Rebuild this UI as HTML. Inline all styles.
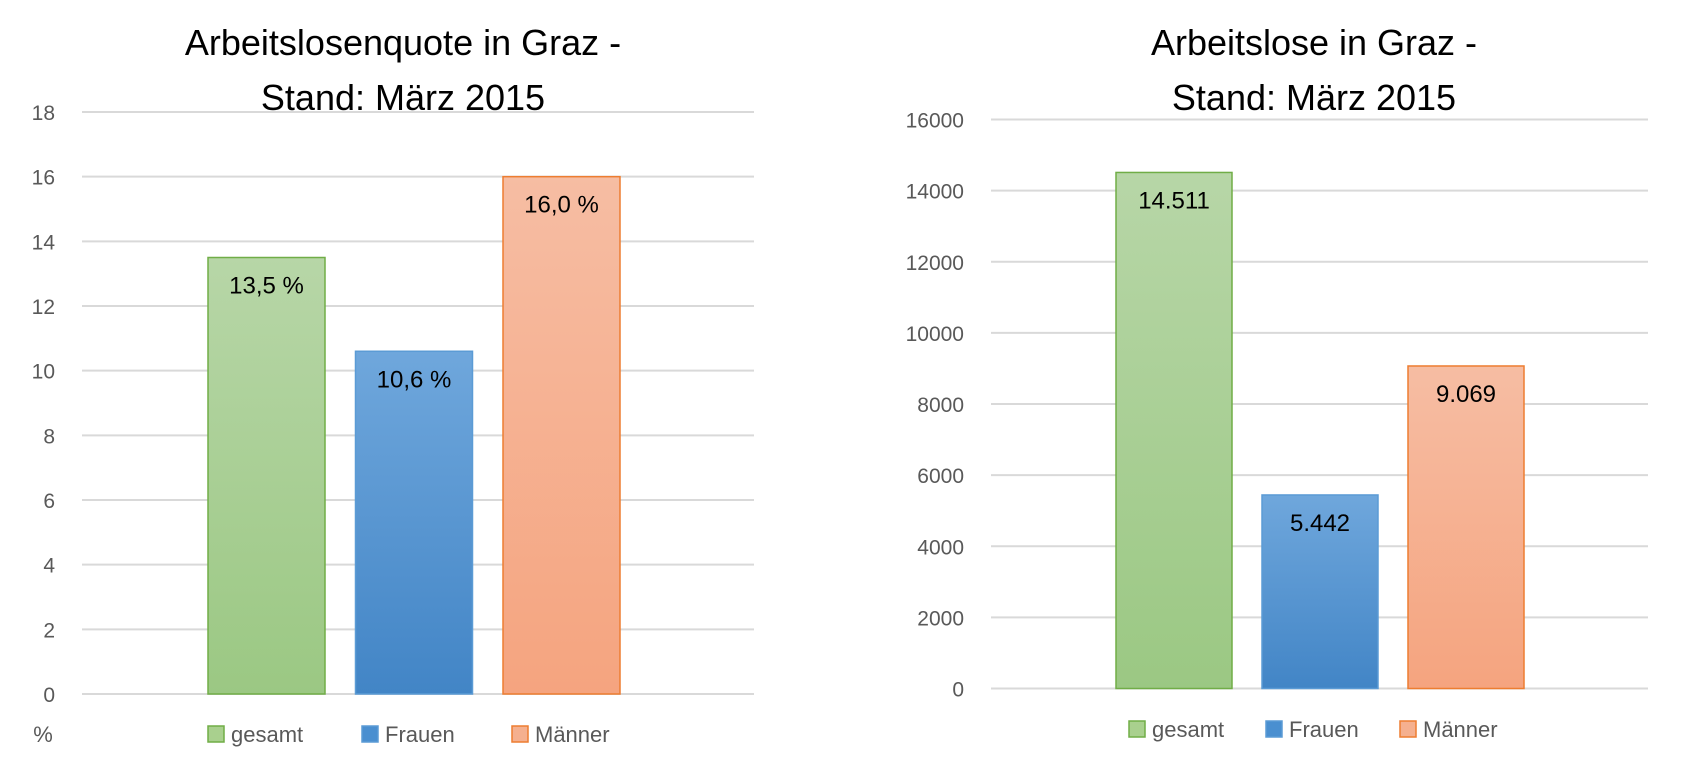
<!DOCTYPE html>
<html><head><meta charset="utf-8">
<style>
html,body{margin:0;padding:0;background:#fff;}
svg{display:block;font-family:"Liberation Sans",Calibri,sans-serif;}
</style></head>
<body>
<svg id="chart" width="1683" height="774" viewBox="0 0 1683 774" xmlns="http://www.w3.org/2000/svg">
<defs>
<linearGradient id="gGreen" x1="0" y1="0" x2="0" y2="1"><stop offset="0" stop-color="#b7d6a7"/><stop offset="1" stop-color="#9bc883"/></linearGradient>
<linearGradient id="gBlue" x1="0" y1="0" x2="0" y2="1"><stop offset="0" stop-color="#6fa7dc"/><stop offset="1" stop-color="#4285c6"/></linearGradient>
<linearGradient id="gOrange" x1="0" y1="0" x2="0" y2="1"><stop offset="0" stop-color="#f6bda3"/><stop offset="1" stop-color="#f5a47f"/></linearGradient>
</defs>
</svg>
<script>
// Chart 1 data
const categories = ["gesamt", "Frauen", "Männer"];
const rateValues = [13.5, 10.6, 16.0];
const rateLabels = ["13,5 %", "10,6 %", "16,0 %"];
const rateTicks = [0, 2, 4, 6, 8, 10, 12, 14, 16, 18];
// Chart 2 data
const countValues = [14511, 5442, 9069];
const countLabels = ["14.511", "5.442", "9.069"];
const countTicks = [0, 2000, 4000, 6000, 8000, 10000, 12000, 14000, 16000];

const fills = ["url(#gGreen)", "url(#gBlue)", "url(#gOrange)"];
const strokes = ["#70ad47", "#5b9bd5", "#ed7d31"];
const legendFills = ["#a9d08e", "#4a8fd0", "#f5b08f"];

const svg = document.getElementById('chart');
const NS = 'http://www.w3.org/2000/svg';
function mk(tag, attrs, text) {
  const e = document.createElementNS(NS, tag);
  for (const k in attrs) e.setAttribute(k, attrs[k]);
  if (text !== undefined) e.textContent = text;
  svg.appendChild(e);
  return e;
}

function drawChart(cfg) {
  const y = v => cfg.y0 - (v - cfg.min) / (cfg.max - cfg.min) * (cfg.y0 - cfg.yTop);
  // title
  cfg.title.forEach((t, i) => {
    const el = mk('text', {x: cfg.titleX, y: 55 + i * 55, 'text-anchor': 'middle', 'font-size': 36, fill: '#000'}, t);
    
    
  });
  // gridlines + ticks
  cfg.ticks.forEach(t => {
    const g = mk('line', {x1: cfg.gx1, x2: cfg.gx2, y1: y(t), y2: y(t), stroke: '#d9d9d9', 'stroke-width': 2});
    
    
    const tl = mk('text', {x: cfg.tickX, y: y(t) + 8, 'text-anchor': 'end', 'font-size': 21, fill: '#595959'}, String(t));
    
    
  });
  // bars
  cfg.values.forEach((v, i) => {
    const x = cfg.barX0 + i * cfg.barStep;
    const b = mk('rect', {x: x, y: y(v), width: cfg.barW, height: y(cfg.min) - y(v), fill: fills[i], stroke: strokes[i], 'stroke-width': 1.5});
    
    
    const l = mk('text', {x: x + cfg.barW / 2, y: y(v) + 36, 'text-anchor': 'middle', 'font-size': 24, fill: '#000'}, cfg.labels[i]);
    
    
  });
  // legend
  categories.forEach((c, i) => {
    const lx = cfg.legX[i];
    const sq = mk('rect', {x: lx, y: cfg.legY - 8, width: 16, height: 16, fill: legendFills[i], stroke: strokes[i], 'stroke-width': 1.5});
    
    
    const lt = mk('text', {x: lx + 23, y: cfg.legY + 8, 'font-size': 22, fill: '#595959'}, c);
    
    
  });
}

drawChart({prefix: 'rate-chart', title: ['Arbeitslosenquote in Graz -', 'Stand: März 2015'], titleX: 403,
  values: rateValues, labels: rateLabels, ticks: rateTicks, min: 0, max: 18,
  y0: 694, yTop: 112, gx1: 82, gx2: 754, tickX: 55,
  barX0: 208, barStep: 147.5, barW: 117, legX: [208, 362, 512], legY: 734});

drawChart({prefix: 'count-chart', title: ['Arbeitslose in Graz -', 'Stand: März 2015'], titleX: 1314,
  values: countValues, labels: countLabels, ticks: countTicks, min: 0, max: 16000,
  y0: 688.5, yTop: 119.5, gx1: 991, gx2: 1648, tickX: 964,
  barX0: 1116, barStep: 146, barW: 116, legX: [1129, 1266, 1400], legY: 729});

const pct = mk('text', {x: 43, y: 742, 'text-anchor': 'middle', 'font-size': 22, fill: '#595959'}, '%');


</script>
</body></html>
